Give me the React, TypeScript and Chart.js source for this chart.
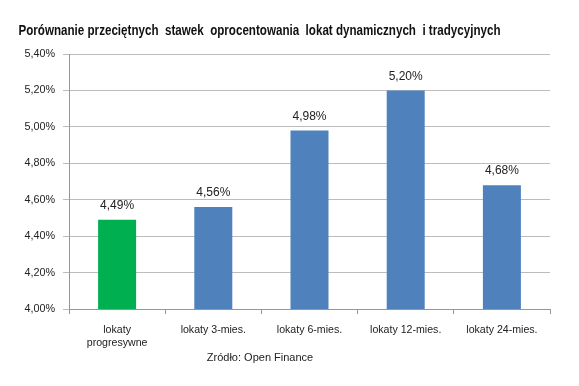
import React, { useEffect, useRef } from "react";
import { Chart, registerables } from "chart.js";

Chart.register(...registerables);

const titleText = "Porównanie przeciętnych  stawek  oprocentowania  lokat dynamicznych  i tradycyjnych";
const sourceText = "Zródło: Open Finance";
const categories: (string | string[])[] = [
  ["lokaty", "progresywne"],
  "lokaty 3-mies.",
  "lokaty 6-mies.",
  "lokaty 12-mies.",
  "lokaty 24-mies.",
];
const values = [4.49, 4.56, 4.98, 5.2, 4.68];
const barColors = ["#00b050", "#4f81bd", "#4f81bd", "#4f81bd", "#4f81bd"];
const yMin = 4.0;
const yMax = 5.4;
const yStep = 0.2;

const fmt = (v: number) => v.toFixed(2).replace(".", ",") + "%";
const FAMILY = "'Liberation Sans', Arial, sans-serif";

const textPlugin = {
  id: "texts",
  afterDatasetsDraw(chart: any) {
    const ctx = chart.ctx;
    ctx.save();
    const meta = chart.getDatasetMeta(0);
    ctx.fillStyle = "#222";
    ctx.font = `12px ${FAMILY}`;
    ctx.textAlign = "center";
    ctx.textBaseline = "middle";
    meta.data.forEach((bar: any, i: number) => {
      ctx.fillText(fmt(values[i]), bar.x, bar.y - 14);
    });
    // title: condensed bold, fitted to the reference width
    ctx.font = `bold 14px ${FAMILY}`;
    ctx.fillStyle = "#111";
    const w = ctx.measureText(titleText).width;
    ctx.save();
    ctx.translate(259.5, 31);
    ctx.scale(482 / w, 1);
    ctx.fillText(titleText, 0, 0);
    ctx.restore();
    ctx.font = `11px ${FAMILY}`;
    ctx.fillStyle = "#222";
    ctx.fillText(sourceText, 260, 358);
    ctx.restore();
  },
};

export default function App() {
  const ref = useRef<HTMLCanvasElement>(null);
  useEffect(() => {
    document.body.style.margin = "0";
    const chart = new Chart(ref.current!, {
      type: "bar",
      data: {
        labels: categories,
        datasets: [
          {
            data: values,
            backgroundColor: barColors,
            borderWidth: 0,
            categoryPercentage: 1,
            barPercentage: 0.395,
          },
        ],
      },
      options: {
        responsive: false,
        animation: false,
        layout: { padding: { left: 0, right: 29, top: 54, bottom: 0 } },
        plugins: { legend: { display: false }, tooltip: { enabled: false } },
        scales: {
          x: {
            afterFit: (s: any) => {
              s.height = 77;
            },
            grid: {
              display: true,
              drawOnChartArea: false,
              offset: true,
              tickLength: 5,
              color: "#969696",
            },
            border: { color: "#969696" },
            ticks: {
              color: "#222",
              font: { family: FAMILY, size: 10.6, lineHeight: 1.25 },
              padding: 9,
              maxRotation: 0,
            },
          },
          y: {
            min: yMin,
            max: yMax,
            afterFit: (s: any) => {
              s.width = 69;
            },
            grid: { color: "#bcbcbc", tickLength: 6 },
            border: { color: "#969696" },
            ticks: {
              stepSize: yStep,
              color: "#222",
              font: { family: FAMILY, size: 10.8 },
              padding: 8,
              callback: (v: any) => fmt(Number(v)),
            },
          },
        },
      },
      plugins: [textPlugin],
    });
    return () => chart.destroy();
  }, []);
  return <canvas ref={ref} width={579} height={386} style={{ display: "block" }} />;
}
